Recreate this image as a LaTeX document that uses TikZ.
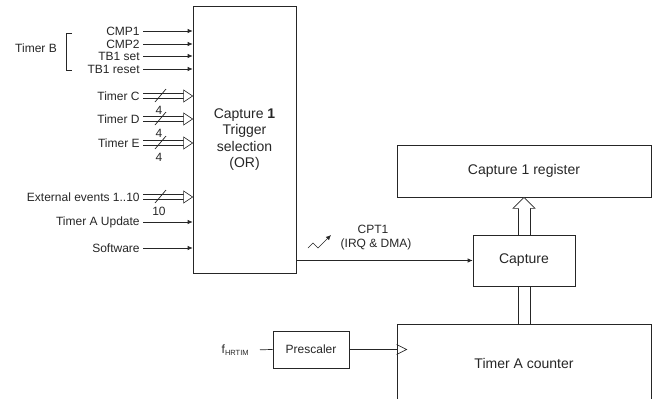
\documentclass[tikz,border=0pt]{standalone}
\usepackage{fontspec}
\setmainfont{Liberation Sans}
\usetikzlibrary{arrows.meta,calc,positioning}

\begin{document}
\begin{tikzpicture}[x=1pt,y=-1pt,line width=0.7pt,color=black!85,
  lbl/.style={anchor=east,inner sep=3pt,font=\fontsize{12}{13}\selectfont},
  blk/.style={draw,inner sep=0pt,align=center,font=\fontsize{14}{16.5}\selectfont},
  sarrow/.style={-{Latex[length=5pt,width=4.5pt]}},
  bus/.style={double,double distance=4.5pt,line width=0.6pt},
  bushead/.style={fill=white,line width=0.6pt,line join=miter},
  busw/.style={inner sep=1pt,font=\fontsize{12}{13}\selectfont}]
  \useasboundingbox (0,0) rectangle (659,399);
  \clip (0,0) rectangle (659,399);

  % trigger selection and its inputs
  \node[blk,minimum width=103pt,minimum height=267pt] (trig) at (244.5,139.5)
    {Capture \textbf{1}\\Trigger\\selection\\(OR)};
  \node[lbl] (cmp1) at (143,31) {CMP1};
  \node[lbl] (cmp2) at (143,44) {CMP2};
  \node[lbl] (tbset) at (143,56) {TB1 set};
  \node[lbl] (tbrst) at (143,69) {TB1 reset};
  \node[lbl] (tmc) at (143,96) {Timer C};
  \node[lbl] (tmd) at (143,119) {Timer D};
  \node[lbl] (tme) at (143,143) {Timer E};
  \node[lbl] (ext) at (143,197) {External events 1..10};
  \node[lbl] (tmau) at (143,222) {Timer A Update};
  \node[lbl] (sw) at (143,248) {Software};
  \node[lbl,anchor=center] (tmrb) at (36,48) {Timer B};
  \draw (72,33) -- (66,33) -- (66,70) -- (72,70);

  \foreach \n in {cmp1,cmp2,tbset,tbrst,tmau,sw}
    \draw[sarrow] (\n.east) -- (\n.east -| trig.west);
  \foreach \n/\w in {tmc/4,tmd/4,tme/4,ext/10}{
    \draw[bus] (\n.east) -- ($(\n.east -| trig.west)+(-8,0)$);
    \draw[bushead] ($(\n.east -| trig.west)+(-9,-6)$) -- (\n.east -| trig.west)
      -- ($(\n.east -| trig.west)+(-9,6)$) -- cycle;
    \draw ($(\n.east)+(12,6)$) -- ($(\n.east)+(23,-7)$);
    \node[busw] (\n-w) at ($(\n.east)+(16,14)$) {\w};
  }

  % capture path
  \node[blk,minimum width=254pt,minimum height=52pt] (reg) at (524,171) {Capture 1 register};
  \node[blk,minimum width=102pt,minimum height=51pt] (cap) at (524,260.5) {Capture};
  \node[blk,minimum width=254pt,minimum height=78pt] (cnt) at (524,363) {Timer A counter};
  \node[blk,minimum width=76pt,minimum height=37pt,font=\fontsize{12}{14}\selectfont] (pre) at (311,349.5) {Prescaler};
  \node[anchor=east,inner sep=0pt,font=\fontsize{12}{13}\selectfont] (fclk) at (249,350)
    {f\raisebox{-2.5pt}{\fontsize{7.5}{8}\selectfont HRTIM}};

  \draw[sarrow] (trig.east |- cap.west) -- (cap.west);
  \node[busw] (cpt) at (373,229) {CPT1};
  \node[busw] (irq) at (376,244) {(IRQ \& DMA)};
  \draw[-{Latex[length=5pt,width=4.5pt]},line width=0.6pt]
    (308,248) -- (313,243) -- (318,248) -- (331,235);

  \draw ($(cap.north)+(-6,0)$) -- ($(reg.south)+(-6,11)$);
  \draw ($(cap.north)+(6,0)$) -- ($(reg.south)+(6,11)$);
  \draw[bushead] ($(reg.south)+(-6,11)$) -- ($(reg.south)+(-11,11)$) -- (reg.south)
    -- ($(reg.south)+(11,11)$) -- ($(reg.south)+(6,11)$);
  \draw ($(cap.south)+(-6,0)$) -- ($(cnt.north)+(-6,0)$);
  \draw ($(cap.south)+(6,0)$) -- ($(cnt.north)+(6,0)$);

  \draw[shorten <=11pt] (fclk.east) -- (pre.west);
  \draw (pre.east) -- (pre.east -| cnt.west);
  \draw (cnt.west |- pre.east) ++(0,-5) -- ++(10,5) -- ++(-10,5);
\end{tikzpicture}
\end{document}
